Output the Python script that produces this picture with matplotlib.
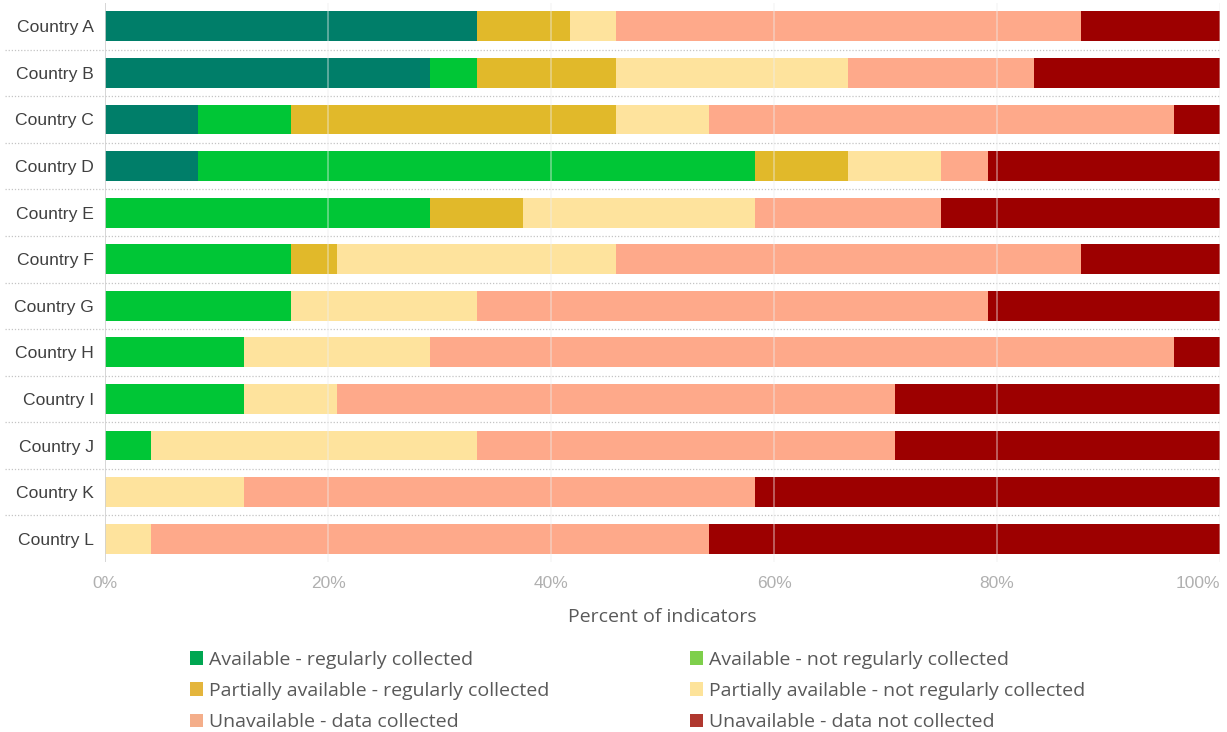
import numpy as np
import matplotlib.pyplot as plt
from matplotlib.patches import Patch

countries = ['Country A', 'Country B', 'Country C', 'Country D', 'Country E', 'Country F',
             'Country G', 'Country H', 'Country I', 'Country J', 'Country K', 'Country L']

# number of indicators (out of 24) per category
avail_reg = [8, 7, 2, 2, 0, 0, 0, 0, 0, 0, 0, 0]
avail_notreg = [0, 1, 2, 12, 7, 4, 4, 3, 3, 1, 0, 0]
partial_reg = [2, 3, 7, 2, 2, 1, 0, 0, 0, 0, 0, 0]
partial_notreg = [1, 5, 2, 2, 5, 6, 4, 4, 2, 7, 3, 1]
unavail_coll = [10, 4, 10, 1, 4, 10, 11, 16, 12, 9, 11, 12]
unavail_notcoll = [3, 4, 1, 5, 6, 3, 5, 1, 7, 7, 10, 11]
total = 24

labels = ['Available - regularly collected', 'Available - not regularly collected',
          'Partially available - regularly collected', 'Partially available - not regularly collected',
          'Unavailable - data collected', 'Unavailable - data not collected']

bar_colors = ['#007e69', '#00c636', '#e1b92a', '#fee39d', '#fea98a', '#9d0000']
legend_colors = ['#00a651', '#7ecf4b', '#e4b53c', '#fde39a', '#f4ae8a', '#b0382f']

series = [avail_reg, avail_notreg, partial_reg, partial_notreg, unavail_coll, unavail_notcoll]

fig = plt.figure(figsize=(12.27, 7.32), dpi=100)
ax = fig.add_axes([105 / 1227, 1 - 562 / 732, 1115 / 1227, 559 / 732])

y = np.arange(len(countries))
left = np.zeros(len(countries))
for vals, color in zip(series, bar_colors):
    pct = np.array(vals) / total * 100
    ax.barh(y, pct, left=left, height=0.64, color=color, zorder=2)
    left += pct

ax.set_xlim(0, 100)
ax.set_ylim(11.5, -0.5)

# row separators
for i in range(len(countries) - 1):
    ax.plot([-9.0, 100], [i + 0.5, i + 0.5], color='#c4c4c4', linewidth=0.9,
            linestyle=(0, (1, 1.5)), clip_on=False, zorder=1)

# vertical gridlines
ax.axvline(0, color='#d0d0d0', linewidth=1.2, zorder=3)
for gx in [20, 40, 60, 80, 100]:
    ax.axvline(gx, color='#eeeeee', linewidth=1.1, alpha=0.5, zorder=3)

for s in ax.spines.values():
    s.set_visible(False)

ax.set_yticks(y)
ax.set_yticklabels(countries, fontsize=12.6, color='#404040', family='Liberation Sans')
ax.set_xticks([0, 20, 40, 60, 80, 100])
ax.set_xticklabels(['0%', '20%', '40%', '60%', '80%', '100%'], fontsize=12.5,
                   color='#b0b0b0', family='Liberation Sans')
ax.get_xticklabels()[-1].set_horizontalalignment('right')
ax.tick_params(length=0, axis='y', pad=8)
ax.tick_params(length=0, axis='x', pad=10)

ax.set_xlabel('Percent of indicators', fontsize=14, color='#595959', family='Open Sans', labelpad=12)

order = [0, 2, 4, 1, 3, 5]
handles = [Patch(facecolor=legend_colors[i], edgecolor='none', label=labels[i]) for i in order]
leg = fig.legend(handles=handles, ncol=2, loc='upper left', bbox_to_anchor=(180 / 1227, 1 - 641 / 732),
                 frameon=False, handlelength=0.7, handleheight=0.7, borderpad=0,
                 handletextpad=0.3, columnspacing=7.2, labelspacing=0.68,
                 prop={'family': 'Open Sans', 'size': 14})
for t in leg.get_texts():
    t.set_color('#595959')

fig.savefig('out.png', dpi=100)
